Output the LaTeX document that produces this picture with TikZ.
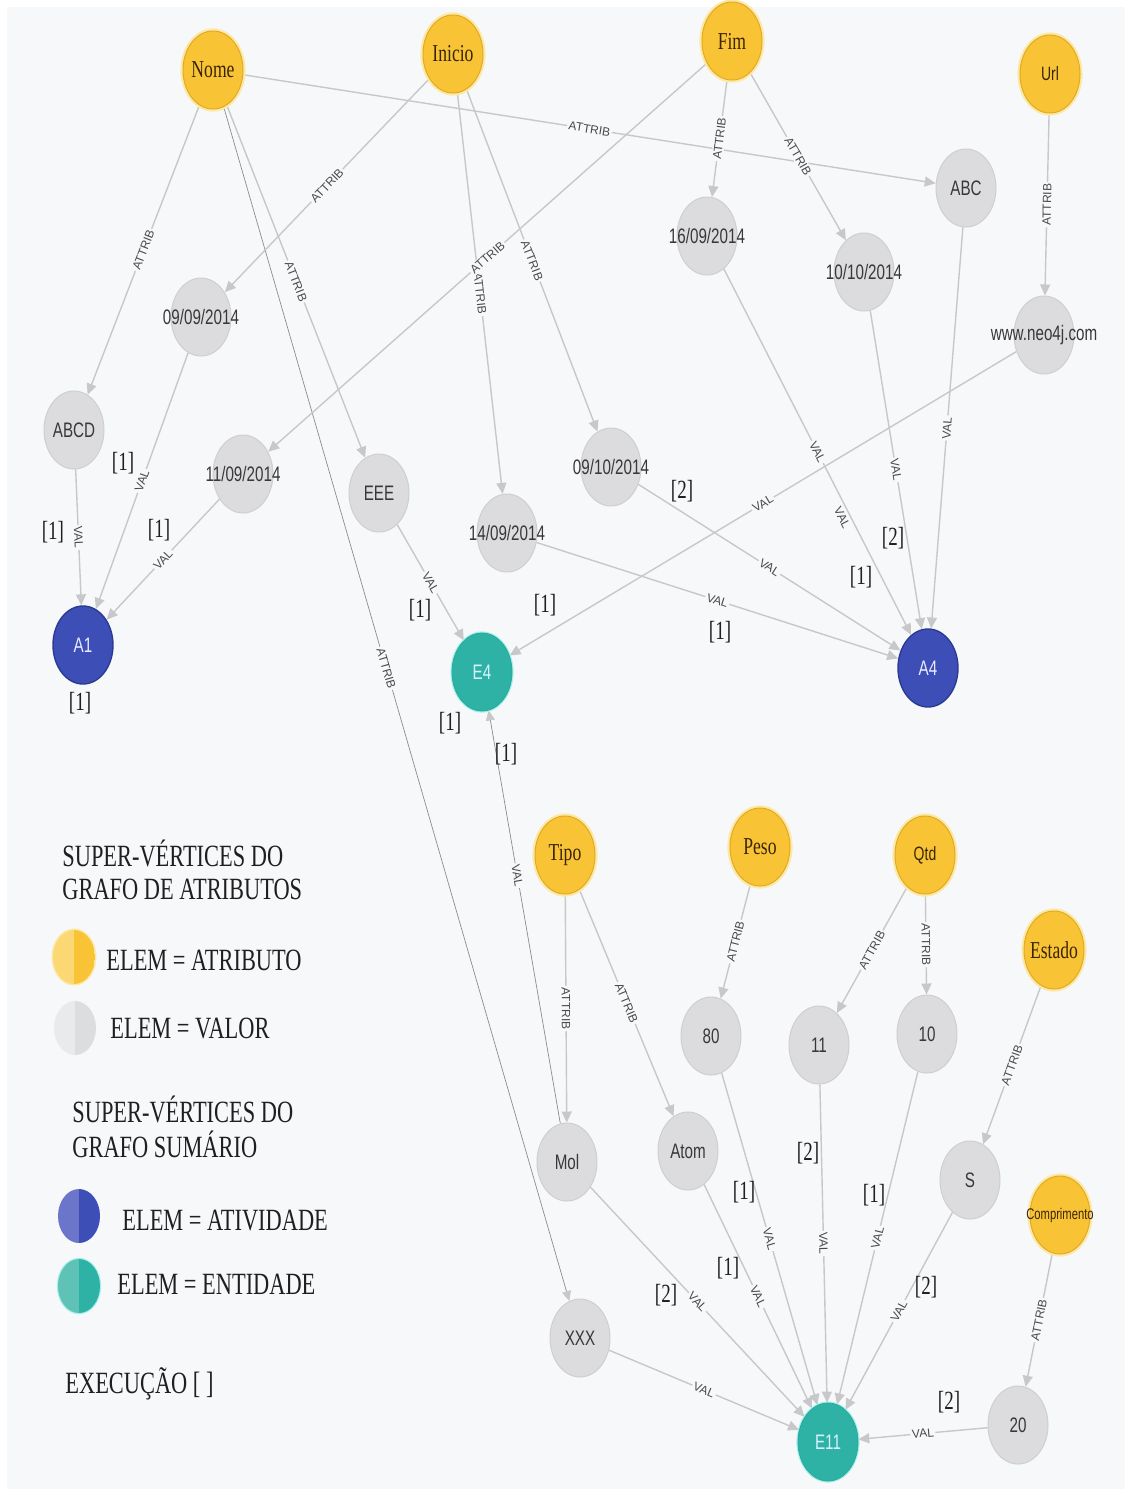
\documentclass[tikz,border=0pt]{standalone}
\usepackage{fontspec}
\setmainfont{Liberation Serif}
\setsansfont{Liberation Sans}
\usetikzlibrary{shapes.geometric,arrows.meta}
\definecolor{bgc}{HTML}{F7F8FA}
\definecolor{attrfill}{HTML}{F8C436}
\definecolor{attrborder}{HTML}{E2A927}
\definecolor{attrglow}{HTML}{FCE9A6}
\definecolor{valfill}{HTML}{DCDCDE}
\definecolor{valborder}{HTML}{CFCFD2}
\definecolor{actfill}{HTML}{3D4FB6}
\definecolor{actborder}{HTML}{2B3A92}
\definecolor{entfill}{HTML}{2EB2A6}
\definecolor{entborder}{HTML}{2AA89C}
\definecolor{entglow}{HTML}{A8F0EA}
\definecolor{edgec}{HTML}{C8C8CA}
\definecolor{thinc}{HTML}{8C8C8C}
\definecolor{labc}{HTML}{4A4A4A}
\definecolor{attrtext}{HTML}{3A2405}
\definecolor{yl}{HTML}{FBD873}
\definecolor{gl}{HTML}{E9EAEC}
\definecolor{gr}{HTML}{DCDDDF}
\definecolor{bl}{HTML}{6B75C9}
\definecolor{tl}{HTML}{5FC2B7}
\newcommand{\vst}[2][1.38]{\scalebox{1}[#1]{#2}}
\newcommand{\zw}[1]{\makebox[0pt]{#1}}
\pgfdeclarelayer{back}
\pgfdeclarelayer{edges}
\pgfsetlayers{back,edges,main}
\begin{document}
\begin{tikzpicture}[x=0.5pt,y=-0.5pt,
  base/.style={ellipse, minimum width=30pt, minimum height=39pt, inner sep=0pt},
  attrn/.style={base, fill=attrfill, draw=attrborder, line width=0.5pt,
     preaction={draw=attrglow, line width=2.6pt},
     text=attrtext, font=\fontsize{8.8}{10}\selectfont},
  attrs/.style={attrn, font=\sffamily\fontsize{7}{8}\selectfont},
  valn/.style={base, fill=valfill, draw=valborder, line width=0.5pt,
     text=black!78, font=\sffamily\fontsize{7.6}{9}\selectfont},
  actn/.style={base, fill=actfill, draw=actborder, line width=0.7pt,
     text=white!92!blue, font=\sffamily\fontsize{7.6}{9}\selectfont},
  entn/.style={base, fill=entfill, draw=entborder, line width=0.4pt,
     preaction={draw=entglow, line width=1.6pt},
     text=white!85!cyan, font=\sffamily\fontsize{7.6}{9}\selectfont},
  edge/.style={draw=edgec, line width=0.7pt, -{Triangle[length=5.5pt,width=5pt]}},
  thinedge/.style={draw=thinc, line width=0.35pt, -{Triangle[length=5pt,width=4.5pt,color=edgec]}},
  elab/.style={sloped, midway, fill=bgc, inner sep=0.8pt, text=labc,
     font=\sffamily\fontsize{6}{7}\selectfont},
  exe/.style={inner sep=0pt, text=black!88, font=\fontsize{9.5}{11}\selectfont},
  legt/.style={anchor=west, inner sep=0pt, text=black!88, font=\fontsize{11.2}{13}\selectfont},
  icon/.style n args={2}{ellipse, minimum width=21pt, minimum height=27pt, inner sep=0pt,
     path picture={\fill[#1] (path picture bounding box.south west) rectangle (path picture bounding box.north);
                   \fill[#2] (path picture bounding box.south) rectangle (path picture bounding box.north east);}}
]
\begin{pgfonlayer}{back}
\fill[white] (0,0) rectangle (1131,1495);
\fill[bgc] (7,7) rectangle (1125,1489);
\end{pgfonlayer}
\useasboundingbox (0,0) rectangle (1131,1495);

% attribute super-vertices
\node[attrn] (Nome) at (213,70) {\zw{\vst{Nome}}};
\node[attrn] (Inicio) at (453,54) {\zw{\vst{Inicio}}};
\node[attrn] (Fim) at (732,41) {\zw{\vst{Fim}}};
\node[attrs] (Url) at (1050,74) {\zw{\vst{Url}}};
\node[attrn] (Tipo) at (565,855) {\zw{\vst{Tipo}}};
\node[attrn] (Peso) at (760,847) {\zw{\vst{Peso}}};
\node[attrs] (Qtd) at (925,855) {\zw{\vst{Qtd}}};
\node[attrn] (Estado) at (1054,950) {\zw{\vst{Estado}}};
\node[attrs, font=\sffamily\fontsize{5.6}{7}\selectfont] (Compr) at (1060,1215) {\zw{\vst{Comprimento}}};

% value vertices
\node[valn] (ABC) at (966,188) {\zw{\vst{ABC}}};
\node[valn] (d1609) at (707,236) {\zw{\vst{16/09/2014}}};
\node[valn] (d1010) at (864,272) {\zw{\vst{10/10/2014}}};
\node[valn] (d0909) at (201,317) {\zw{\vst{09/09/2014}}};
\node[valn] (neo) at (1044,335) {\zw{\vst{www.neo4j.com}}};
\node[valn] (ABCD) at (74,430) {\zw{\vst{ABCD}}};
\node[valn] (d1109) at (243,474) {\zw{\vst{11/09/2014}}};
\node[valn] (EEE) at (379,493) {\zw{\vst{EEE}}};
\node[valn] (d0910) at (611,467) {\zw{\vst{09/10/2014}}};
\node[valn] (d1409) at (507,533) {\zw{\vst{14/09/2014}}};
\node[valn] (n80) at (711,1036) {\zw{\vst{80}}};
\node[valn] (n11) at (819,1045) {\zw{\vst{11}}};
\node[valn] (n10) at (927,1034) {\zw{\vst{10}}};
\node[valn] (Mol) at (567,1162) {\zw{\vst{Mol}}};
\node[valn] (Atom) at (688,1151) {\zw{\vst{Atom}}};
\node[valn] (S) at (970,1180) {\zw{\vst{S}}};
\node[valn] (XXX) at (580,1338) {\zw{\vst{XXX}}};
\node[valn] (n20) at (1018,1425) {\zw{\vst{20}}};

% summary super-vertices
\node[actn] (A1) at (83,645) {\zw{\vst{A1}}};
\node[actn] (A4) at (928,668) {\zw{\vst{A4}}};
\node[entn] (E4) at (482,672) {\zw{\vst{E4}}};
\node[entn] (E11) at (828,1442) {\zw{\vst{E11}}};

\begin{pgfonlayer}{edges}
% ATTRIB
\draw[edge] (Nome) -- node[elab]{ATTRIB} (ABCD);
\draw[edge] (Nome) -- node[elab]{ATTRIB} (ABC);
\draw[edge] (Nome) -- node[elab]{ATTRIB} (EEE);
\draw[thinedge] (Nome) -- node[elab, pos=0.47]{ATTRIB} (XXX);
\draw[edge] (Inicio) -- node[elab]{ATTRIB} (d0909);
\draw[edge] (Inicio) -- node[elab]{ATTRIB} (d1409);
\draw[edge] (Inicio) -- node[elab]{ATTRIB} (d0910);
\draw[edge] (Fim) -- node[elab]{ATTRIB} (d1109);
\draw[edge] (Fim) -- node[elab]{ATTRIB} (d1609);
\draw[edge] (Fim) -- node[elab]{ATTRIB} (d1010);
\draw[edge] (Url) -- node[elab]{ATTRIB} (neo);
\draw[edge] (Tipo) -- node[elab]{ATTRIB} (Mol);
\draw[edge] (Tipo) -- node[elab]{ATTRIB} (Atom);
\draw[edge] (Peso) -- node[elab]{ATTRIB} (n80);
\draw[edge] (Qtd) -- node[elab]{ATTRIB} (n11);
\draw[edge] (Qtd) -- node[elab]{ATTRIB} (n10);
\draw[edge] (Estado) -- node[elab]{ATTRIB} (S);
\draw[edge] (Compr) -- node[elab]{ATTRIB} (n20);
% VAL
\draw[edge] (ABCD) -- node[elab]{VAL} (A1);
\draw[edge] (d0909) -- node[elab]{VAL} (A1);
\draw[edge] (d1109) -- node[elab]{VAL} (A1);
\draw[edge] (EEE) -- node[elab]{VAL} (E4);
\draw[edge] (neo) -- node[elab]{VAL} (E4);
\draw[thinedge] (Mol) -- node[elab, pos=0.6]{VAL} (E4);
\draw[edge] (d1609) -- node[elab]{VAL} node[elab, pos=0.67, yshift=-4pt]{VAL} (A4);
\draw[edge] (d1010) -- node[elab]{VAL} (A4);
\draw[edge] (ABC) -- node[elab]{VAL} (A4);
\draw[edge] (d0910) -- node[elab]{VAL} (A4);
\draw[edge] (d1409) -- node[elab]{VAL} (A4);
\draw[edge] (XXX) -- node[elab]{VAL} (E11);
\draw[edge] (Mol) -- node[elab]{VAL} (E11);
\draw[edge] (Atom) -- node[elab]{VAL} (E11);
\draw[edge] (n80) -- node[elab]{VAL} (E11);
\draw[edge] (n11) -- node[elab]{VAL} (E11);
\draw[edge] (n10) -- node[elab]{VAL} (E11);
\draw[edge] (S) -- node[elab]{VAL} (E11);
\draw[edge] (n20) -- node[elab]{VAL} (E11);
\end{pgfonlayer}

% execution marks
\node[exe] (x1) at (123,463) {\vst{[1]}};
\node[exe] (x2) at (53,532) {\vst{[1]}};
\node[exe] (x3) at (159,530) {\vst{[1]}};
\node[exe] (x4) at (80,703) {\vst{[1]}};
\node[exe] (x5) at (420,610) {\vst{[1]}};
\node[exe] (x6) at (545,605) {\vst{[1]}};
\node[exe] (x7) at (450,723) {\vst{[1]}};
\node[exe] (x8) at (506,754) {\vst{[1]}};
\node[exe] (x9) at (682,491) {\vst{[2]}};
\node[exe] (x10) at (893,538) {\vst{[2]}};
\node[exe] (x11) at (861,577) {\vst{[1]}};
\node[exe] (x12) at (720,632) {\vst{[1]}};
\node[exe] (x13) at (744,1192) {\vst{[1]}};
\node[exe] (x14) at (808,1153) {\vst{[2]}};
\node[exe] (x15) at (874,1195) {\vst{[1]}};
\node[exe] (x16) at (728,1268) {\vst{[1]}};
\node[exe] (x17) at (666,1295) {\vst{[2]}};
\node[exe] (x18) at (926,1287) {\vst{[2]}};
\node[exe] (x19) at (949,1402) {\vst{[2]}};

% legend
\node[legt] (lg1) at (62,853) {\vst{SUPER-VÉRTICES DO}};
\node[legt] (lg2) at (62,889) {\vst{GRAFO DE ATRIBUTOS}};
\node[icon={yl}{attrfill}, preaction={draw=attrglow, line width=1.5pt}] (ic1) at (74,957) {};
\node[legt] (lg3) at (106,960) {\vst{ELEM = ATRIBUTO}};
\node[icon={gl}{gr}] (ic2) at (75,1028) {};
\node[legt] (lg4) at (110,1028) {\vst{ELEM = VALOR}};
\node[legt] (lg5) at (72,1109) {\vst{SUPER-VÉRTICES DO}};
\node[legt] (lg6) at (72,1144) {\vst{GRAFO SUMÁRIO}};
\node[icon={bl}{actfill}] (ic3) at (79,1216) {};
\node[legt] (lg7) at (122,1221) {\vst{ELEM = ATIVIDADE}};
\node[icon={tl}{entfill}, preaction={draw=entglow, line width=1.2pt}] (ic4) at (79,1286) {};
\node[legt] (lg8) at (117,1284) {\vst{ELEM = ENTIDADE}};
\node[legt] (lg9) at (65,1384) {\vst{EXECUÇÃO [ ]}};
\end{tikzpicture}
\end{document}
